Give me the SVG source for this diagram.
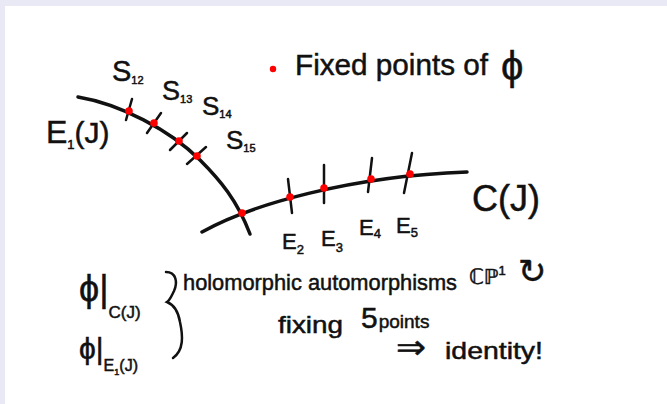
<svg xmlns="http://www.w3.org/2000/svg" width="667" height="404" viewBox="0 0 667 404">
<style>
.t{font-family:"Liberation Sans","DejaVu Sans",sans-serif;fill:#111;stroke:#111;stroke-width:0.5}
.curve{fill:none;stroke:#111;stroke-width:3.5;stroke-linecap:round}
.tick{fill:none;stroke:#111;stroke-width:2.5;stroke-linecap:round}
.fp{fill:#f00}
</style>
<rect x="0" y="0" width="667" height="404" fill="#e9e9f6"/>
<rect x="5" y="6" width="662" height="398" fill="#ffffff"/>

<g id="legend">
<circle class="fp" cx="273" cy="69" r="3.2"/>
<text class="t" x="295" y="75" font-size="30" textLength="193" lengthAdjust="spacingAndGlyphs">Fixed points of</text>
<text class="t" x="501" y="80" font-size="40">ϕ</text>
</g>

<g id="curve-E1">
<path class="curve" d="M78,97 C120,104 170,130 200,160 C220,180 237,200 250,234"/>
<line class="tick" x1="132" y1="99" x2="126" y2="120"/>
<line class="tick" x1="161" y1="113" x2="147" y2="133"/>
<line class="tick" x1="187" y1="133" x2="170" y2="150"/>
<line class="tick" x1="206" y1="147" x2="187" y2="164"/>
<circle class="fp" cx="129" cy="111" r="3.8"/>
<circle class="fp" cx="154" cy="123" r="3.8"/>
<circle class="fp" cx="179" cy="141" r="3.8"/>
<circle class="fp" cx="197" cy="156" r="3.8"/>
<text class="t" x="46" y="143" font-size="32">E<tspan font-size="13" dy="6">1</tspan><tspan dy="-6" font-size="30">(J)</tspan></text>
</g>

<g id="curve-C">
<path class="curve" d="M202,232 C250,205 350,176 467,172"/>
<line class="tick" x1="288" y1="179" x2="292" y2="213"/>
<line class="tick" x1="324" y1="165" x2="324" y2="203"/>
<line class="tick" x1="372" y1="158" x2="368" y2="192"/>
<line class="tick" x1="412" y1="153" x2="404" y2="193"/>
<circle class="fp" cx="242" cy="213" r="3.8"/>
<circle class="fp" cx="290" cy="197" r="3.8"/>
<circle class="fp" cx="324" cy="188" r="3.8"/>
<circle class="fp" cx="371" cy="179" r="3.8"/>
<circle class="fp" cx="410" cy="174" r="3.8"/>
<text class="t" x="472" y="211" font-size="36">C(J)</text>
</g>

<g id="labels-S">
<text class="t" x="112" y="81" font-size="29">S<tspan font-size="11" dy="3">12</tspan></text>
<text class="t" x="162" y="100" font-size="27">S<tspan font-size="11" dy="3">13</tspan></text>
<text class="t" x="202" y="115" font-size="26">S<tspan font-size="11" dy="3">14</tspan></text>
<text class="t" x="226" y="149" font-size="26">S<tspan font-size="11" dy="3">15</tspan></text>
</g>

<g id="labels-E">
<text class="t" x="282" y="249" font-size="22">E<tspan font-size="13" dy="5">2</tspan></text>
<text class="t" x="321" y="246" font-size="22">E<tspan font-size="13" dy="6">3</tspan></text>
<text class="t" x="359" y="235" font-size="22">E<tspan font-size="13" dy="3">4</tspan></text>
<text class="t" x="396" y="233" font-size="22">E<tspan font-size="13" dy="4">5</tspan></text>
</g>

<g id="restrictions">
<text class="t" x="79" y="301" font-size="36">ϕ|<tspan font-size="17" dy="17">C(J)</tspan></text>
<text class="t" x="79" y="359" font-size="30">ϕ|<tspan font-size="16" dy="12">E</tspan><tspan font-size="9" dy="4">1</tspan><tspan font-size="16" dy="-4">(J)</tspan></text>
<path class="tick" d="M166,272 C176,272 178,282 174,291 C171,297 170,300 167,302 C172,304 178,310 180,322 C183,336 184,350 173,358"/>
</g>

<g id="statement">
<text class="t" x="183" y="290" font-size="22" textLength="274" lengthAdjust="spacingAndGlyphs">holomorphic automorphisms</text>
<text class="t" x="469" y="284" font-size="21">ℂℙ<tspan font-size="13" dy="-9">1</tspan></text>
<text class="t" x="518" y="283" font-size="34">↻</text>
<text class="t" x="278" y="333" font-size="24" textLength="65" lengthAdjust="spacingAndGlyphs">fixing</text>
<text class="t" x="361" y="328" font-size="30">5<tspan font-size="19" dx="1">points</tspan></text>
<text class="t" x="396" y="358" font-size="32" textLength="30" lengthAdjust="spacingAndGlyphs">⇒</text>
<text class="t" x="445" y="359" font-size="24" textLength="98" lengthAdjust="spacingAndGlyphs">identity!</text>
</g>
</svg>
